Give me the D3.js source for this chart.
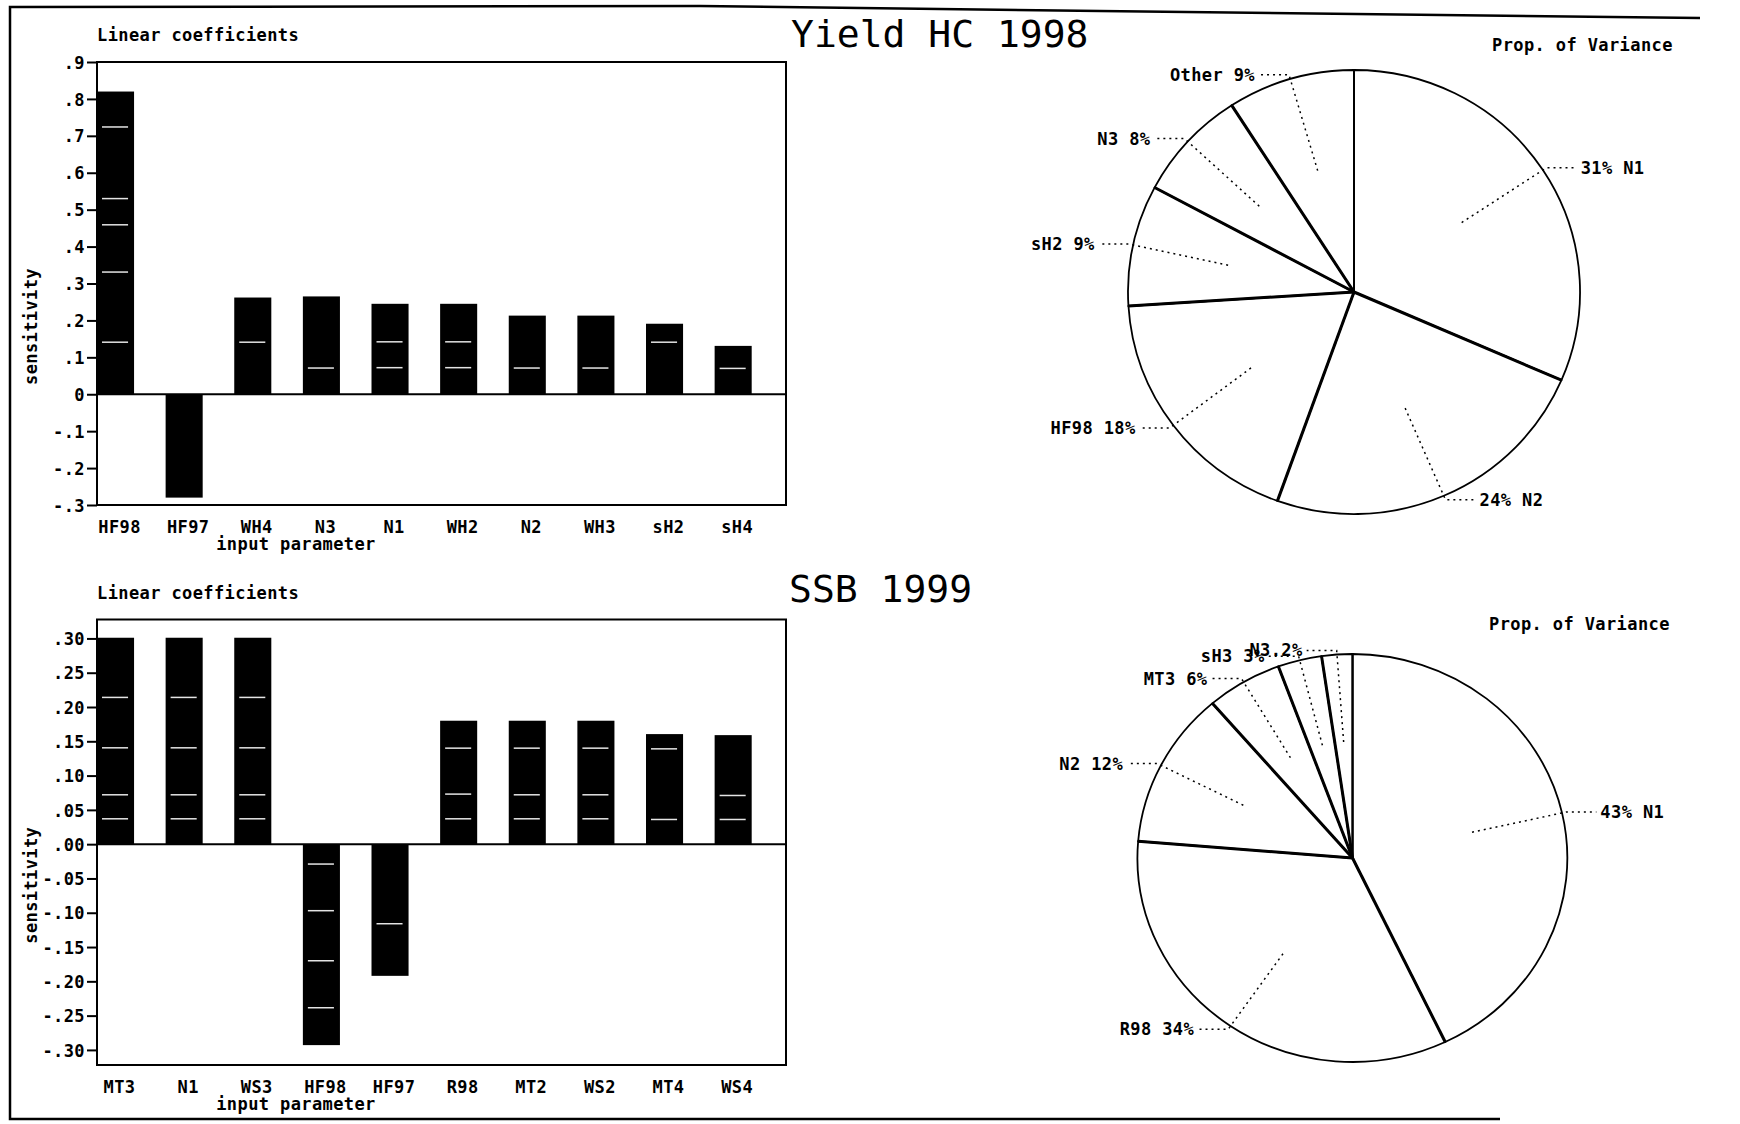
<!DOCTYPE html>
<html>
<head>
<meta charset="utf-8">
<script src="https://cdn.jsdelivr.net/npm/d3@7"></script>
<style>
  body { margin: 0; background: #fff; }
  text { font-family: "DejaVu Sans Mono", monospace; font-weight: bold; font-size: 17px; letter-spacing: 0.4px; fill: #000; }
  text.title { font-weight: normal; font-size: 38px; letter-spacing: 0; }
</style>
</head>
<body>
<div id="chart"></div>
<script>
// ---- Yield HC 1998 ----
const yieldParams = ["HF98", "HF97", "WH4", "N3", "N1", "WH2", "N2", "WH3", "sH2", "sH4"];
const yieldCoef = [0.82, -0.28, 0.262, 0.265, 0.245, 0.245, 0.213, 0.213, 0.191, 0.131];
// thin white lines seen inside the bars
const yieldStripes = [[0.724, 0.530, 0.459, 0.331, 0.141], [], [0.141], [0.071], [0.142, 0.072],
                      [0.142, 0.072], [0.071], [0.071], [0.141], [0.070]];
const yieldTicks = [0.9, 0.8, 0.7, 0.6, 0.5, 0.4, 0.3, 0.2, 0.1, 0, -0.1, -0.2, -0.3];
const yieldTickLabels = [".9", ".8", ".7", ".6", ".5", ".4", ".3", ".2", ".1", "0", "-.1", "-.2", "-.3"];

const yieldPieNames = ["N1", "N2", "HF98", "sH2", "N3", "Other"];
const yieldPieShares = [31.5, 24.0, 18.5, 8.8, 8.1, 9.1];
const yieldPieText = ["31% N1", "24% N2", "HF98 18%", "sH2 9%", "N3 8%", "Other 9%"];

// ---- SSB 1999 ----
const ssbParams = ["MT3", "N1", "WS3", "HF98", "HF97", "R98", "MT2", "WS2", "MT4", "WS4"];
const ssbCoef = [0.301, 0.301, 0.301, -0.293, -0.192, 0.180, 0.180, 0.180, 0.1605, 0.159];
const ssbStripes = [[0.214, 0.1405, 0.072, 0.037], [0.214, 0.1405, 0.072, 0.037], [0.214, 0.1405, 0.072, 0.037],
                    [-0.029, -0.097, -0.170, -0.2385], [-0.116], [0.140, 0.073, 0.037],
                    [0.140, 0.072, 0.037], [0.140, 0.072, 0.037], [0.139, 0.036], [0.071, 0.036]];
const ssbTicks = [0.30, 0.25, 0.20, 0.15, 0.10, 0.05, 0, -0.05, -0.10, -0.15, -0.20, -0.25, -0.30];
const ssbTickLabels = [".30", ".25", ".20", ".15", ".10", ".05", ".00", "-.05", "-.10", "-.15", "-.20", "-.25", "-.30"];

const ssbPieNames = ["N1", "R98", "N2", "MT3", "sH3", "N3"];
const ssbPieShares = [42.9, 33.4, 12.4, 5.7, 3.3, 2.3];
const ssbPieText = ["43% N1", "R98 34%", "N2 12%", "MT3 6%", "sH3 3%", "N3.2%"];

const width = 1740, height = 1124;

var svg = d3.select("#chart").append("svg")
    .attr("width", width)
    .attr("height", height);

svg.append("rect").attr("width", width).attr("height", height).attr("fill", "#fff");

// outer frame of the scanned page (left, top, bottom)
svg.append("path")
    .attr("d", d3.line()([[1700, 18], [1100, 11], [700, 6], [10, 7], [10, 1119], [1500, 1119]]))
    .attr("fill", "none").attr("stroke", "#000").attr("stroke-width", 2.5);

function barPanel(cfg) {
    var g = svg.append("g");

    var x = d3.scaleBand()
        .domain(cfg.params)
        .range([cfg.left, cfg.right])
        .paddingInner(0.46)
        .paddingOuter(0.25)
        .align(0);

    var y = d3.scaleLinear()
        .domain(cfg.domain)
        .range([cfg.bottom, cfg.top]);

    // bars
    g.selectAll("rect.bar")
        .data(cfg.values)
        .enter()
        .append("rect")
        .attr("class", "bar")
        .attr("x", (d, i) => x(cfg.params[i]))
        .attr("width", x.bandwidth())
        .attr("y", d => y(Math.max(0, d)))
        .attr("height", d => Math.abs(y(d) - y(0)))
        .attr("fill", "#000");

    // white stripes inside bars
    cfg.stripes.forEach(function(list, i) {
        list.forEach(function(v) {
            g.append("line")
                .attr("x1", x(cfg.params[i]) + 5)
                .attr("x2", x(cfg.params[i]) + x.bandwidth() - 6)
                .attr("y1", y(v)).attr("y2", y(v))
                .attr("stroke", "#e4e4e4")
                .attr("stroke-width", 1.5);
        });
    });

    // frame + zero line
    g.append("rect")
        .attr("x", cfg.left).attr("y", cfg.top)
        .attr("width", cfg.right - cfg.left)
        .attr("height", cfg.bottom - cfg.top)
        .attr("fill", "none").attr("stroke", "#000").attr("stroke-width", 2);

    g.append("line")
        .attr("x1", cfg.left).attr("x2", cfg.right)
        .attr("y1", y(0)).attr("y2", y(0))
        .attr("stroke", "#000").attr("stroke-width", 2);

    // y axis
    var yAxis = d3.axisLeft(y)
        .tickValues(cfg.ticks)
        .tickFormat((d, i) => cfg.tickLabels[i])
        .tickSize(10)
        .tickPadding(2);

    var ax = g.append("g")
        .attr("transform", "translate(" + cfg.left + ",0)")
        .call(yAxis);
    ax.select(".domain").remove();
    ax.selectAll(".tick line").attr("stroke", "#000").attr("stroke-width", 2);
    ax.selectAll(".tick text").attr("dy", "0.36em");

    // category labels
    g.selectAll("text.cat")
        .data(cfg.params)
        .enter()
        .append("text")
        .attr("class", "cat")
        .attr("x", d => x(d) + x.bandwidth() / 2 + 4)
        .attr("y", cfg.bottom + 28)
        .attr("text-anchor", "middle")
        .text(d => d);

    g.append("text")
        .attr("x", 296)
        .attr("y", cfg.bottom + 45)
        .attr("text-anchor", "middle")
        .text("input parameter");

    g.append("text")
        .attr("x", cfg.left)
        .attr("y", cfg.top - 21)
        .text("Linear coefficients");

    g.append("text")
        .attr("transform", "translate(31," + ((cfg.top + cfg.bottom) / 2 + 43) + ") rotate(-90)")
        .attr("text-anchor", "middle")
        .attr("dominant-baseline", "central")
        .text("sensitivity");
}

function piePanel(cfg) {
    var g = svg.append("g");
    var slices = d3.pie().sort(null).value(d => d)(cfg.shares);

    function pt(a, f) {
        return [cfg.cx + Math.sin(a) * cfg.rx * f, cfg.cy - Math.cos(a) * cfg.ry * f];
    }

    var arc = d3.arc().innerRadius(0).outerRadius(1);

    g.append("g")
        .attr("transform", "translate(" + cfg.cx + "," + cfg.cy + ") scale(" + cfg.rx + "," + cfg.ry + ")")
        .selectAll("path")
        .data(slices)
        .enter()
        .append("path")
        .attr("d", arc)
        .attr("fill", "#fff")
        .attr("stroke", "#000")
        .attr("stroke-width", 1.8)
        .attr("vector-effect", "non-scaling-stroke");

    // heavier radii
    g.selectAll("line.radius")
        .data(slices)
        .enter()
        .append("line")
        .attr("class", "radius")
        .attr("x1", cfg.cx).attr("y1", cfg.cy)
        .attr("x2", d => pt(d.startAngle, 1)[0])
        .attr("y2", d => pt(d.startAngle, 1)[1])
        .attr("stroke", "#000")
        .attr("stroke-width", (d, i) => i == 0 ? 2 : 3);

    // leaders + labels
    slices.forEach(function(d, i) {
        var mid = (d.startAngle + d.endAngle) / 2;
        var side = Math.sin(mid) >= 0 ? 1 : -1;
        var p0 = pt(mid, 0.57);
        var p1 = pt(mid, 1.02);
        var p2 = [p1[0] + side * 30, p1[1]];
        g.append("path")
            .attr("d", d3.line()([p0, p1, p2]))
            .attr("fill", "none")
            .attr("stroke", "#000")
            .attr("stroke-width", 1.5)
            .attr("stroke-dasharray", "2,4");
        g.append("text")
            .attr("x", p2[0] + side * 4)
            .attr("y", p2[1])
            .attr("dominant-baseline", "central")
            .attr("text-anchor", side > 0 ? "start" : "end")
            .text(cfg.labels[i]);
    });

    g.append("text")
        .attr("x", cfg.propX)
        .attr("y", cfg.propY)
        .text("Prop. of Variance");
}

barPanel({
    params: yieldParams, values: yieldCoef, stripes: yieldStripes,
    ticks: yieldTicks, tickLabels: yieldTickLabels,
    domain: [-0.3, 0.9], left: 97, right: 786, top: 62, bottom: 505
});

barPanel({
    params: ssbParams, values: ssbCoef, stripes: ssbStripes,
    ticks: ssbTicks, tickLabels: ssbTickLabels,
    domain: [-0.322, 0.3276], left: 97, right: 786, top: 619.5, bottom: 1065
});

piePanel({
    shares: yieldPieShares, labels: yieldPieText,
    cx: 1354, cy: 292, rx: 226, ry: 222, propX: 1492, propY: 51
});

piePanel({
    shares: ssbPieShares, labels: ssbPieText,
    cx: 1352.5, cy: 858, rx: 215, ry: 204, propX: 1489, propY: 630
});

svg.append("text").attr("class", "title").attr("x", 791).attr("y", 47).text("Yield HC 1998");
svg.append("text").attr("class", "title").attr("x", 789).attr("y", 602).text("SSB 1999");
</script>
</body>
</html>
